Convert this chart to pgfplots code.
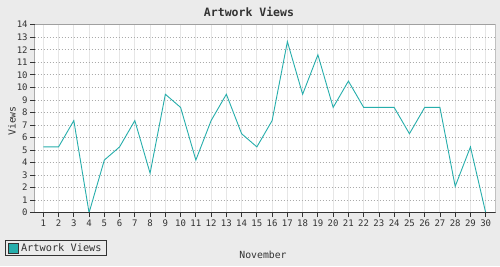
\documentclass[border=0pt]{standalone}
\usepackage{fontspec}
\setmainfont{DejaVu Sans Mono}
\usepackage{pgfplots}
\pgfplotsset{compat=1.18}
\definecolor{bg}{HTML}{EBEBEB}
\definecolor{teal1}{RGB}{38,174,172}
\definecolor{dk}{HTML}{333333}
\definecolor{gridd}{HTML}{A0A0A0}
\definecolor{gridv}{HTML}{E6E6E6}
\begin{document}
\begin{tikzpicture}[x=1pt,y=1pt]
\fill[bg] (0,0) rectangle (500,266);
\useasboundingbox (0,0) rectangle (500,266);
\begin{axis}[
  at={(34.7pt,53.3pt)}, anchor=south west,
  scale only axis, width=461pt, height=188pt,
  xmin=0.436, xmax=30.656, ymin=0, ymax=14.28571,
  axis background/.style={fill=white},
  axis line style={draw=none},
  xtick={1,...,30},
  ytick={0,0.95238,1.90476,2.85714,3.80952,4.7619,5.71429,6.66667,7.61905,8.57143,9.52381,10.47619,11.42857,12.38095,13.33333,14.28571},
  yticklabels={0,1,2,3,4,5,6,7,8,9,10,10,11,12,13,14},
  xtick pos=bottom, ytick pos=left,
  tick align=outside, major tick length=4.5pt,
  tick style={dk, line width=0.8pt},
  xmajorgrids, ymajorgrids,
  x grid style={gridv, line width=0.9pt},
  y grid style={gridd!90, line width=0.7pt, dash pattern=on 0.8pt off 2.2pt},
  /pgf/number format/assume math mode=true,
  ticklabel style={font=\fontsize{9}{10}\selectfont, text=dk},
  xticklabel style={yshift=1pt},
  yticklabel style={xshift=1pt},
  legend style={at={(-0.0638,-0.2287)}, anchor=south west, draw=dk, line width=0.9pt, fill=none,
     inner xsep=2.5pt, inner ysep=0.5pt, font=\fontsize{10.3}{11}\selectfont, text=dk},
  legend image code/.code={\draw[fill=teal1, draw=dk, line width=0.8pt] (0pt,-5pt) rectangle (10pt,5pt);},
]
\addplot[teal1, line width=0.9pt] coordinates {
(1,5) (2,5) (3,7) (4,0) (5,4) (6,5) (7,7) (8,3) (9,9) (10,8)
(11,4) (12,7) (13,9) (14,6) (15,5) (16,7) (17,13) (18,9) (19,12) (20,8)
(21,10) (22,8) (23,8) (24,8) (25,6) (26,8) (27,8) (28,2) (29,5) (30,0)
};
\addlegendentry{Artwork Views}
\draw[gridd, line width=0.9pt] (rel axis cs:0,1) -- (rel axis cs:1,1) -- (rel axis cs:1,0);
\draw[dk, line width=1.2pt] (rel axis cs:0,1) -- (rel axis cs:0,0) -- (rel axis cs:1,0);
\end{axis}
\node[font=\bfseries\fontsize{11.5}{12}\selectfont, text=dk] at (249,254.3) {Artwork Views};
\node[font=\fontsize{9.8}{10}\selectfont, text=dk, rotate=90] at (12,145) {Views};
\node[font=\fontsize{9.8}{10}\selectfont, text=dk] at (263,11) {November};
\end{tikzpicture}
\end{document}
